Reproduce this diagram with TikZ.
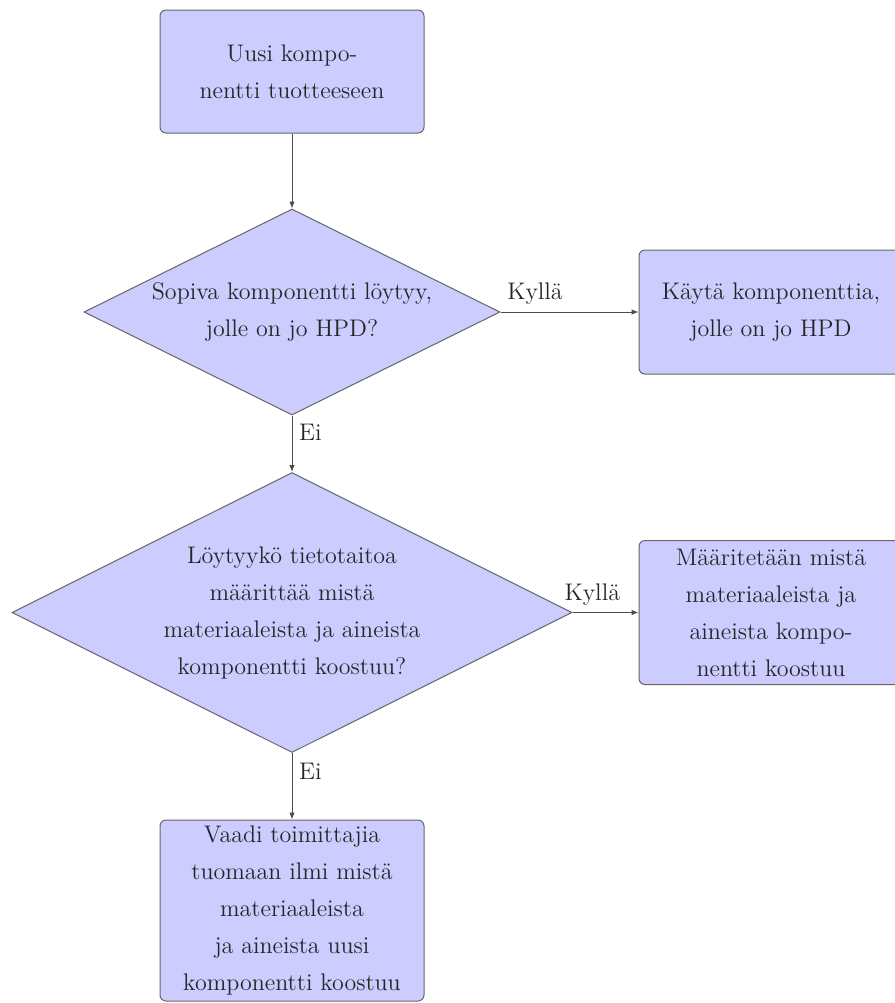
\documentclass[tikz,border=0pt]{standalone}
\usetikzlibrary{shapes.geometric,arrows.meta}

\tikzset{
  txt/.style={font=\fontsize{12}{18.5}\selectfont, align=center, text=black!85},
  block/.style={txt, rectangle, rounded corners=3pt, draw=black!60, line width=0.5pt,
    fill=blue!20, inner sep=2pt, minimum width=132pt},
  decision/.style={txt, diamond, aspect=2, draw=black!60, line width=0.5pt,
    fill=blue!20, inner sep=0pt},
  flow/.style={draw=black!70, line width=0.5pt, -{Latex[length=3.5pt,width=2.8pt]}},
  lbl/.style={font=\fontsize{12}{14.5}\selectfont, text=black!85}
}

\begin{document}
\begin{tikzpicture}[x=0.5pt, y=-0.5pt]
  \useasboundingbox (0,0) rectangle (895,1003);

  \node[block, minimum height=61.5pt] (start) at (292,71.5)
    {Uusi kompo-\\nentti tuotteeseen};

  \node[decision, minimum width=208pt, minimum height=103pt] (d1) at (292,312)
    {Sopiva komponentti löytyy,\\jolle on jo HPD?};

  \node[block, minimum height=62pt] (use) at (771,312)
    {Käytä komponenttia,\\jolle on jo HPD};

  \node[decision, minimum width=280pt, minimum height=140pt] (d2) at (292,612.5)
    {Löytyykö tietotaitoa\\määrittää mistä\\materiaaleista ja aineista\\komponentti koostuu?};

  \node[block, minimum height=72pt] (define) at (771,612.5)
    {Määritetään mistä\\materiaaleista ja\\aineista kompo-\\nentti koostuu};

  \node[block, minimum height=90.5pt] (demand) at (292,910.5)
    {Vaadi toimittajia\\tuomaan ilmi mistä\\materiaaleista\\ja aineista uusi\\komponentti koostuu};

  \draw[flow] (start) -- (d1);
  \draw[flow] (d1.east) -- node[lbl, pos=0.25, above] {Kyllä} (use.west);
  \draw[flow] (d1.south) -- node[lbl, pos=0.3, right] {Ei} (d2.north);
  \draw[flow] (d2.east) -- node[lbl, pos=0.3, above] {Kyllä} (define.west);
  \draw[flow] (d2.south) -- node[lbl, pos=0.27, right] {Ei} (demand.north);
\end{tikzpicture}
\end{document}
